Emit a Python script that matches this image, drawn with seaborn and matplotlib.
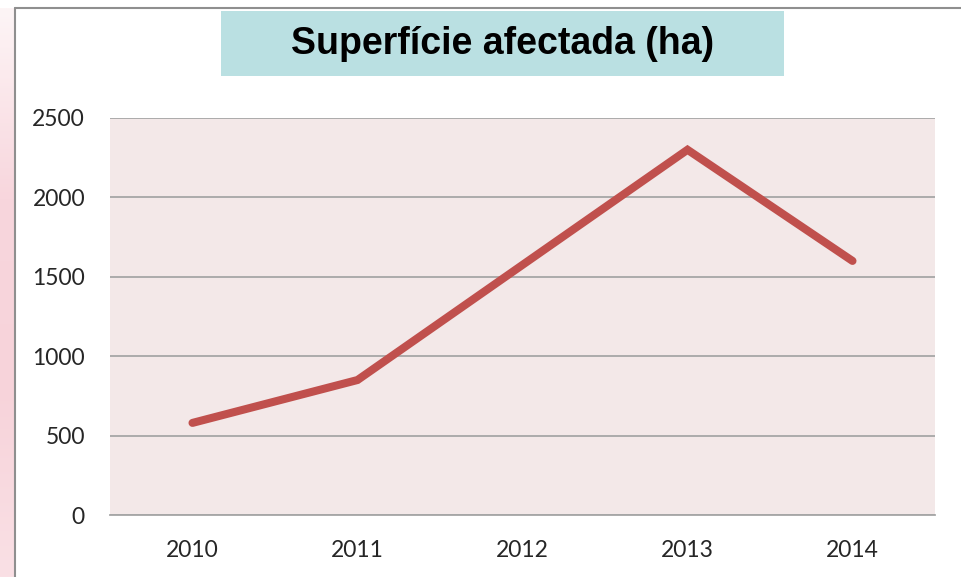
import numpy as np
import pandas as pd
import matplotlib
matplotlib.use("Agg")
import matplotlib.pyplot as plt
from matplotlib.patches import Rectangle
from matplotlib.lines import Line2D
import seaborn as sns

# data
years = [2010, 2011, 2012, 2013, 2014]
area_ha = [580, 850, 1575, 2300, 1600]
y_ticks = [0, 500, 1000, 1500, 2000, 2500]
title = "Superfície afectada (ha)"

df = pd.DataFrame({"year": years, "area": area_ha})

sns.set_style("white")
plt.rcParams["font.family"] = ["Lato", "DejaVu Sans"]

W, H = 961, 577
fig = plt.figure(figsize=(W / 100, H / 100), dpi=100)
fig.patch.set_facecolor("white")

# pink slide background strip on the left (lighter at the top)
strip = fig.add_axes([0, 0, 14 / W, 1 - 8 / H])
grad = np.linspace(0, 1, 200).reshape(-1, 1)
strip.imshow(grad, aspect="auto", cmap=matplotlib.colors.LinearSegmentedColormap.from_list(
    "pk", ["#fdf5f6", "#f8d6dd", "#f7d3da", "#fae0e5"]), extent=[0, 1, 0, 1])
strip.set_axis_off()

# outer chart frame
fig.add_artist(Line2D([14.5 / W, 1], [1 - 7.5 / H, 1 - 7.5 / H], transform=fig.transFigure,
                      color="#8f8f8f", lw=1.5))
fig.add_artist(Line2D([14.5 / W, 14.5 / W], [0, 1 - 7.5 / H], transform=fig.transFigure,
                      color="#8f8f8f", lw=1.5))

ax = fig.add_axes([110 / W, (H - 515) / H, (935 - 110) / W, (515 - 118) / H])
ax.set_facecolor("#f3e8e8")

sns.lineplot(data=df, x="year", y="area", ax=ax, color="#c0504d", linewidth=5.8,
             solid_capstyle="round", solid_joinstyle="miter")

ax.set_xlim(2009.5, 2014.5)
ax.set_ylim(0, 2500)
ax.set_xticks(years)
ax.set_yticks(y_ticks)
ax.yaxis.grid(True, color="#a6a6a6", linewidth=1.3)
ax.set_axisbelow(True)
for s in ["left", "right", "top"]:
    ax.spines[s].set_visible(False)
ax.spines["bottom"].set_color("#a6a6a6")
ax.spines["bottom"].set_linewidth(1.3)
ax.tick_params(axis="both", length=0, labelsize=16.5, colors="#262626")
ax.tick_params(axis="y", pad=18)
ax.tick_params(axis="x", pad=18)
ax.set_xlabel("")
ax.set_ylabel("")

# title box
fig.add_artist(Rectangle((221 / W, (H - 76) / H), 563 / W, 65 / H, transform=fig.transFigure,
                         facecolor="#bae0e2", edgecolor="none"))
fig.text(503 / W, 1 - 44 / H, title, ha="center", va="center", fontsize=27,
         fontweight="bold", family=["Liberation Sans", "DejaVu Sans"], color="black")

fig.savefig("out.png", dpi=100)
